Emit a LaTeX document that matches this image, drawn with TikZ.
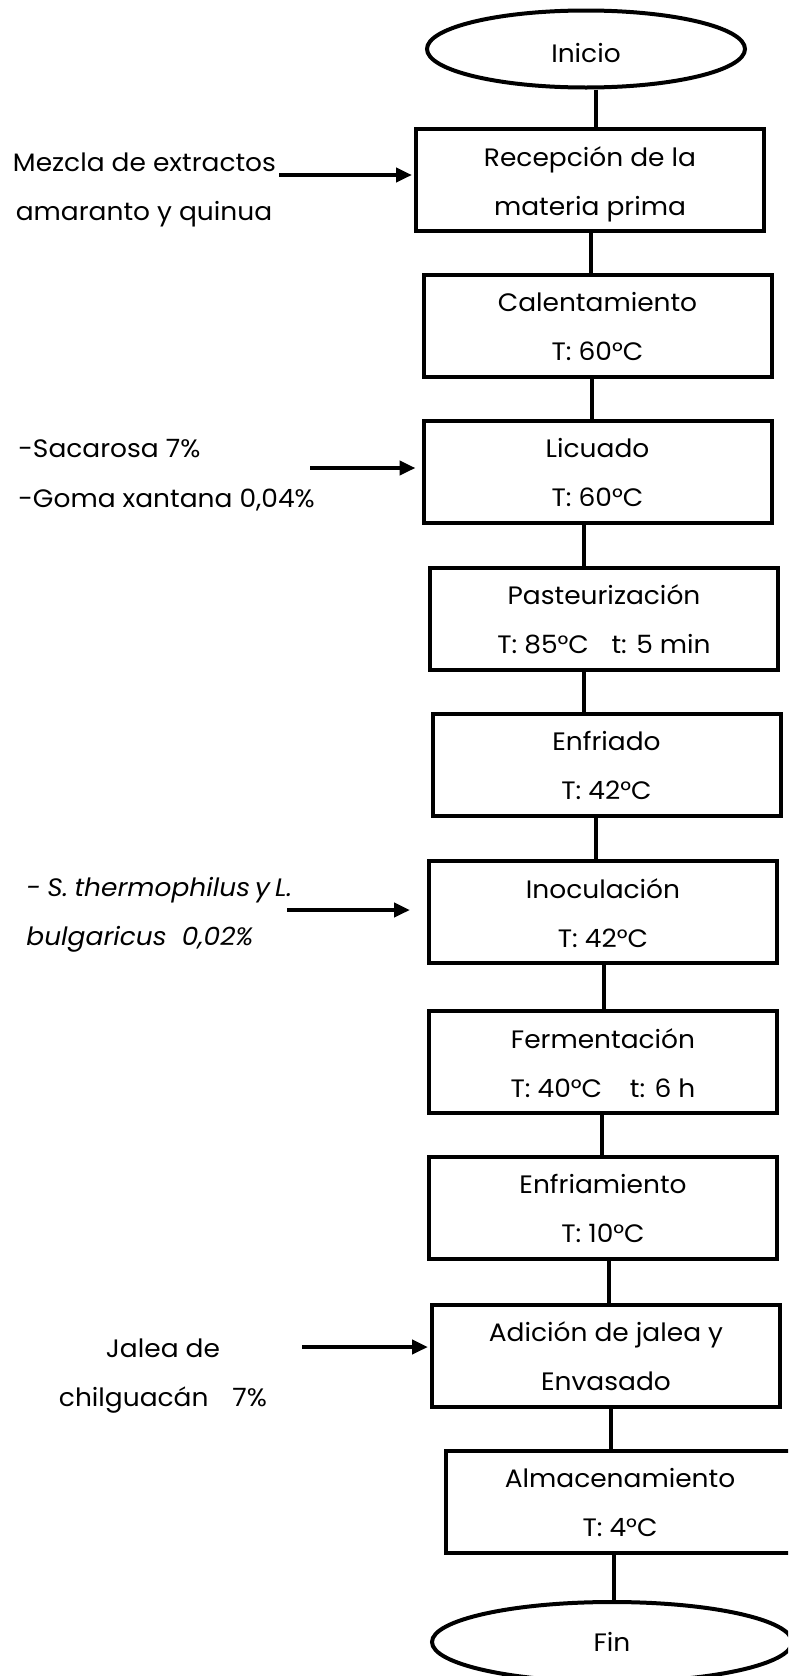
\documentclass[tikz,border=0pt]{standalone}
\usepackage{fontspec}
\setmainfont{Poppins}[FakeStretch=1.05]
\usetikzlibrary{arrows.meta,shapes.geometric,calc}

% two text lines set inside a process box, on fixed baselines
\newcommand\steptext[3]{%
  \node[txt,anchor=base] (#1-a) at ($(#1.center)+(0,-14)$) {#2};
  \node[txt,anchor=base] (#1-b) at ($(#1.center)+(0,35)$) {#3};}
% vertical connector leaving box #1 at horizontal offset #3, ending on box #2
\newcommand\link[3]{%
  \draw[conn] (#1.south) ++(#3,0) coordinate (#1-out) -- (#1-out |- #2.north);}

\begin{document}
\begin{tikzpicture}[x=0.5pt,y=-0.5pt,
  txt/.style={font=\fontsize{12.6pt}{14pt}\selectfont,inner sep=0pt},
  itxt/.style={txt,font=\fontsize{12.6pt}{14pt}\selectfont\itshape},
  procbox/.style={draw,line width=2pt,rectangle,minimum width=174pt,
    minimum height=51pt,inner sep=0pt},
  terminal/.style={draw,line width=2pt,ellipse,inner sep=0pt},
  conn/.style={line width=2pt},
  feed/.style={line width=2pt,-{Triangle[length=8pt,width=7pt]}}]

\useasboundingbox (0,0) rectangle (788,1676);
\clip (0,0) rectangle (788,1676);

% terminals
\node[terminal,minimum width=159pt,minimum height=38.5pt] (ini) at (586,49) {};
\node[txt,anchor=base] (ini-t) at (586,62) {Inicio};
\node[terminal,minimum width=180pt,minimum height=40pt] (fin) at (612,1642) {};
\node[txt,anchor=base] (fin-t) at (612,1651) {Fin};

% process steps
\node[procbox] (rec)  at (590,180)    {};
\node[procbox] (cal)  at (597.5,325.5) {};
\node[procbox] (lic)  at (597.5,471.5) {};
\node[procbox] (pas)  at (604,618.5)  {};
\node[procbox] (enf)  at (606.5,764.5) {};
\node[procbox] (ino)  at (603,912)    {};
\node[procbox] (fer)  at (603,1062)   {};
\node[procbox] (enfm) at (603,1207.5) {};
\node[procbox] (adi)  at (606,1355.5) {};
\node[procbox] (alm)  at (620,1501.5) {};

\steptext{rec}{Recepción de la}{materia prima}
\steptext{cal}{Calentamiento}{T: 60°C}
\steptext{lic}{Licuado}{T: 60°C}
\steptext{pas}{Pasteurización}{T: 85°C\hspace{0.9em}t: 5 min}
\steptext{enf}{Enfriado}{T: 42°C}
\steptext{ino}{Inoculación}{T: 42°C}
\steptext{fer}{Fermentación}{T: 40°C\hspace{1.1em}t: 6 h}
\steptext{enfm}{Enfriamiento}{T: 10°C}
\steptext{adi}{Adición de jalea y}{Envasado}
\steptext{alm}{Almacenamiento}{T: 4°C}

% main flow
\link{ini}{rec}{10}
\link{rec}{cal}{1}
\link{cal}{lic}{-5.5}
\link{lic}{pas}{-13.5}
\link{pas}{enf}{-20}
\link{enf}{ino}{-10.5}
\link{ino}{fer}{1}
\link{fer}{enfm}{-1}
\link{enfm}{adi}{6}
\link{adi}{alm}{5}
\link{alm}{fin}{-6}

% inputs on the left
\node[txt,anchor=base] (in1-a) at (144.5,171) {Mezcla de extractos};
\node[txt,anchor=base] (in1-b) at (144,220) {amaranto y quinua};
\coordinate (in1) at (279,175);
\draw[feed,shorten >=1pt] (in1) -- (in1 -| rec.west);

\node[txt,anchor=base west] (in2-a) at (18,457) {-Sacarosa 7\%};
\node[txt,anchor=base west] (in2-b) at (18,507) {-Goma xantana 0,04\%};
\coordinate (in2) at (310,468);
\draw[feed,shorten >=3pt] (in2) -- (in2 -| lic.west);

\node[itxt,anchor=base west] (in3-a) at (26,896)
  {-\hspace{0.25em}S.\hspace{0.25em}thermophilus\hspace{0.2em}y\hspace{0.2em}L.};
\node[itxt,anchor=base west] (in3-b) at (26,945)
  {bulgaricus\hspace{0.6em}0,02\%};
\coordinate (in3) at (287,910);
\draw[feed,shorten >=8.5pt] (in3) -- (in3 -| ino.west);

\node[txt,anchor=base] (in4-a) at (163,1357) {Jalea de};
\node[txt,anchor=base] (in4-b) at (163,1406) {chilguacán\hspace{0.95em}7\%};
\coordinate (in4) at (302,1347);
\draw[feed,shorten >=1pt] (in4) -- (in4 -| adi.west);

\end{tikzpicture}
\end{document}
